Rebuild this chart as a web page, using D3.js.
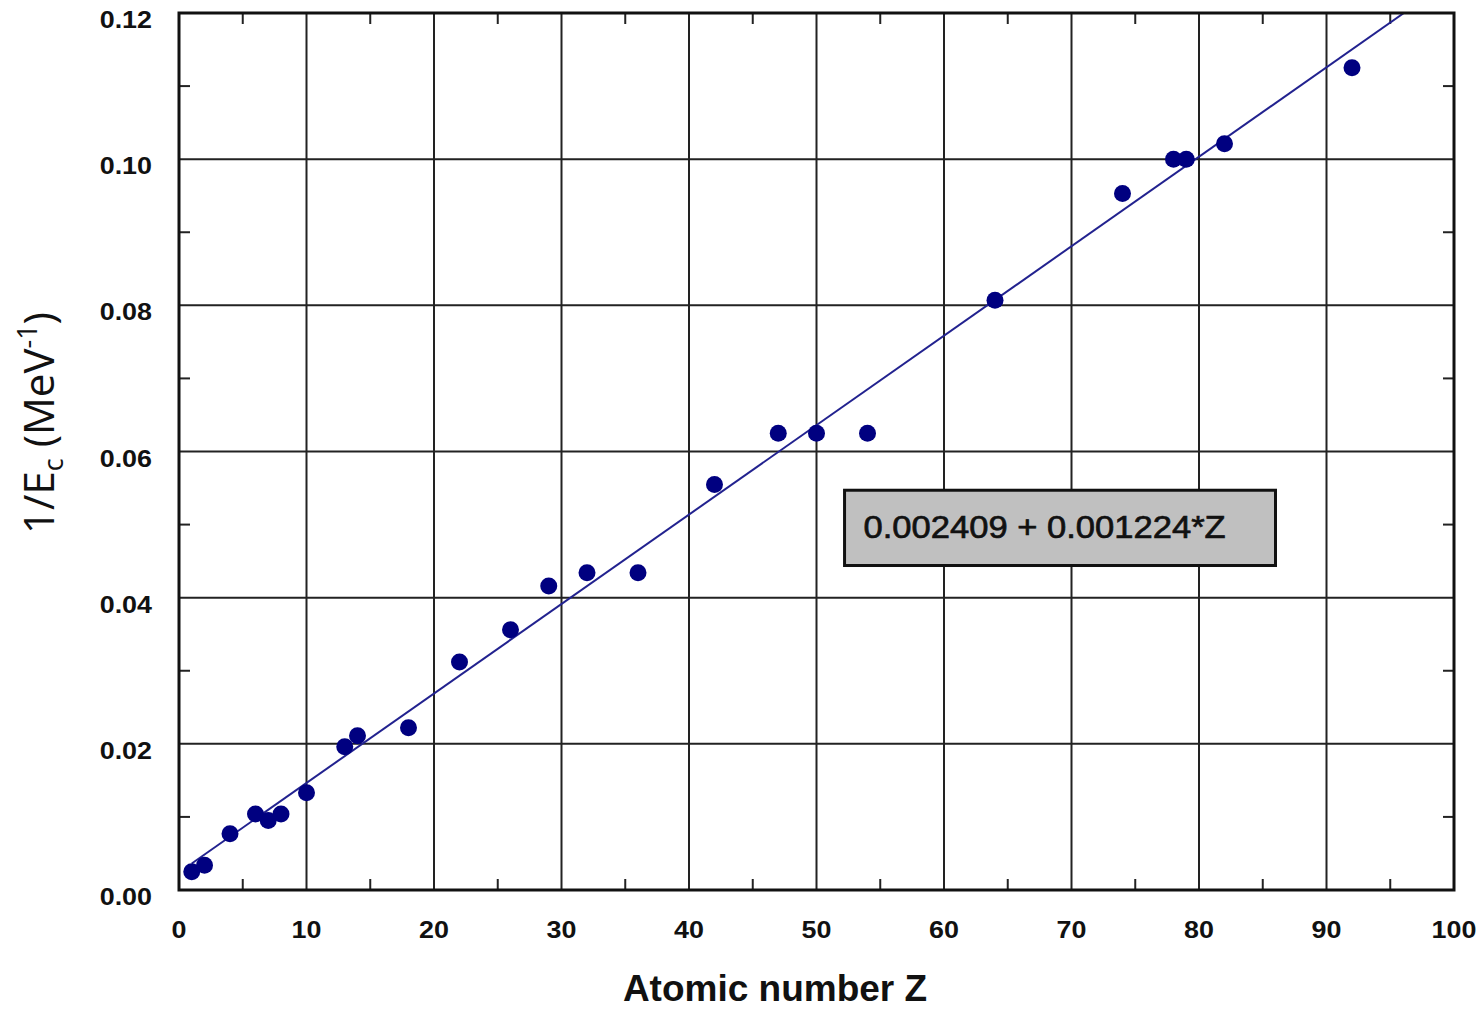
<!DOCTYPE html>
<html>
<head>
<meta charset="utf-8">
<script src="https://d3js.org/d3.v7.min.js"></script>
<style>
  body { margin: 0; background: #fff; }
  svg { display: block; }
</style>
</head>
<body>
<div id="chart"></div>
<script>
// atomic number Z and 1/Ec (MeV^-1)
var zValues = [1, 2, 4, 6, 7, 8, 10, 13, 14, 18, 22, 26, 29, 32, 36, 42, 47, 50, 54, 64, 74, 78, 79, 82, 92];
var invEc = [0.0025, 0.0034, 0.0077, 0.0104, 0.0095, 0.0104, 0.0133, 0.0196, 0.0211, 0.0222,
             0.0312, 0.0356, 0.0416, 0.0434, 0.0434, 0.0555, 0.0625, 0.0625, 0.0625,
             0.0807, 0.0953, 0.1000, 0.1000, 0.1021, 0.1125];
var fitA = 0.002409, fitB = 0.001224;
var xTicks = [0, 10, 20, 30, 40, 50, 60, 70, 80, 90, 100];
var yTicks = [0, 0.02, 0.04, 0.06, 0.08, 0.10, 0.12];
var fitLabel = "0.002409 + 0.001224*Z";

var width = 1481, height = 1010;
var margin = {left: 179, right: 27, top: 13, bottom: 120};
var w = width - margin.left - margin.right,
    h = height - margin.top - margin.bottom;
var font = "Liberation Sans, Arial, sans-serif";

var svg = d3.select("#chart").append("svg")
    .attr("width", width).attr("height", height);
var g = svg.append("g")
    .attr("transform", "translate(" + margin.left + "," + margin.top + ")");

var x = d3.scaleLinear().domain([0, 100]).range([0, w]);
var y = d3.scaleLinear().domain([0, 0.12]).range([h, 0]);

var data = zValues.map(function (z, i) { return {z: z, v: invEc[i]}; });

// grid
g.append("g").selectAll("line").data(xTicks.slice(1, -1)).enter().append("line")
    .attr("x1", function (d) { return x(d); }).attr("x2", function (d) { return x(d); })
    .attr("y1", 0).attr("y2", h)
    .attr("stroke", "#222").attr("stroke-width", 2);
g.append("g").selectAll("line").data(yTicks.slice(1, -1)).enter().append("line")
    .attr("y1", function (d) { return y(d); }).attr("y2", function (d) { return y(d); })
    .attr("x1", 0).attr("x2", w)
    .attr("stroke", "#222").attr("stroke-width", 2);

// minor ticks, inward on all four sides
var xMinor = d3.range(5, 100, 10);
var yMinor = d3.range(0.01, 0.12, 0.02);
var ticks = g.append("g").attr("stroke", "#222").attr("stroke-width", 2);
xMinor.forEach(function (d) {
    ticks.append("line").attr("x1", x(d)).attr("x2", x(d)).attr("y1", h).attr("y2", h - 11);
    ticks.append("line").attr("x1", x(d)).attr("x2", x(d)).attr("y1", 0).attr("y2", 11);
});
yMinor.forEach(function (d) {
    ticks.append("line").attr("y1", y(d)).attr("y2", y(d)).attr("x1", 0).attr("x2", 11);
    ticks.append("line").attr("y1", y(d)).attr("y2", y(d)).attr("x1", w).attr("x2", w - 11);
});

// fit line, clipped to plot
g.append("clipPath").attr("id", "clip").append("rect").attr("width", w).attr("height", h);
var zStart = 1, zEnd = (0.12 - fitA) / fitB;
g.append("line")
    .attr("clip-path", "url(#clip)")
    .attr("x1", x(zStart)).attr("y1", y(fitA + fitB * zStart))
    .attr("x2", x(zEnd)).attr("y2", y(fitA + fitB * zEnd))
    .attr("stroke", "#22228f").attr("stroke-width", 2);

// points
g.selectAll(".pt").data(data).enter().append("circle")
    .attr("class", "pt")
    .attr("cx", function (d) { return x(d.z); })
    .attr("cy", function (d) { return y(d.v); })
    .attr("r", 8.5)
    .attr("fill", "#000080");

// frame
g.append("rect").attr("width", w).attr("height", h)
    .attr("fill", "none").attr("stroke", "#111").attr("stroke-width", 3);

// fit label box
var box = {z0: 52.2, z1: 86.0, v0: 0.0547, v1: 0.0444};
g.append("rect")
    .attr("x", x(box.z0)).attr("y", y(box.v0))
    .attr("width", x(box.z1) - x(box.z0)).attr("height", y(box.v1) - y(box.v0))
    .attr("fill", "#c0c0c0").attr("stroke", "#111").attr("stroke-width", 3);
g.append("text")
    .attr("transform", "translate(" + (x(box.z0) + 19) + "," + (y(box.v0) + 48) + ") scale(1.08,1)")
    .attr("font-family", font)
    .attr("font-size", 32).attr("fill", "#111")
    .attr("stroke", "#111").attr("stroke-width", 0.7)
    .text(fitLabel);

// tick labels
g.selectAll(".xl").data(xTicks).enter().append("text")
    .attr("transform", function (d) { return "translate(" + x(d) + "," + (h + 48) + ") scale(1.12,1)"; })
    .attr("text-anchor", "middle")
    .attr("font-family", font)
    .attr("font-size", 24).attr("font-weight", "bold").attr("fill", "#111")
    .text(function (d) { return d; });
g.selectAll(".yl").data(yTicks).enter().append("text")
    .attr("transform", function (d) { return "translate(-27," + (y(d) + 15) + ") scale(1.12,1)"; })
    .attr("text-anchor", "end")
    .attr("font-family", font)
    .attr("font-size", 24).attr("font-weight", "bold").attr("fill", "#111")
    .text(function (d) { return d.toFixed(2); });

// axis titles
svg.append("text")
    .attr("x", 775).attr("y", 1001)
    .attr("text-anchor", "middle")
    .attr("font-family", font)
    .attr("font-size", 37).attr("font-weight", "bold").attr("fill", "#111")
    .text("Atomic number Z");

var yt = svg.append("text")
    .attr("transform", "translate(54,423) rotate(-90)")
    .attr("text-anchor", "middle")
    .attr("font-family", "Open Sans, Liberation Sans, sans-serif")
    .attr("font-size", 42).attr("fill", "#111");
yt.append("tspan").text("1/E");
yt.append("tspan").attr("font-size", 27).attr("dy", 9).text("c");
yt.append("tspan").attr("dy", -9).text(" (MeV");
yt.append("tspan").attr("font-size", 27).attr("dy", -17).text("-1");
yt.append("tspan").attr("dy", 17).text(")");
</script>
</body>
</html>
